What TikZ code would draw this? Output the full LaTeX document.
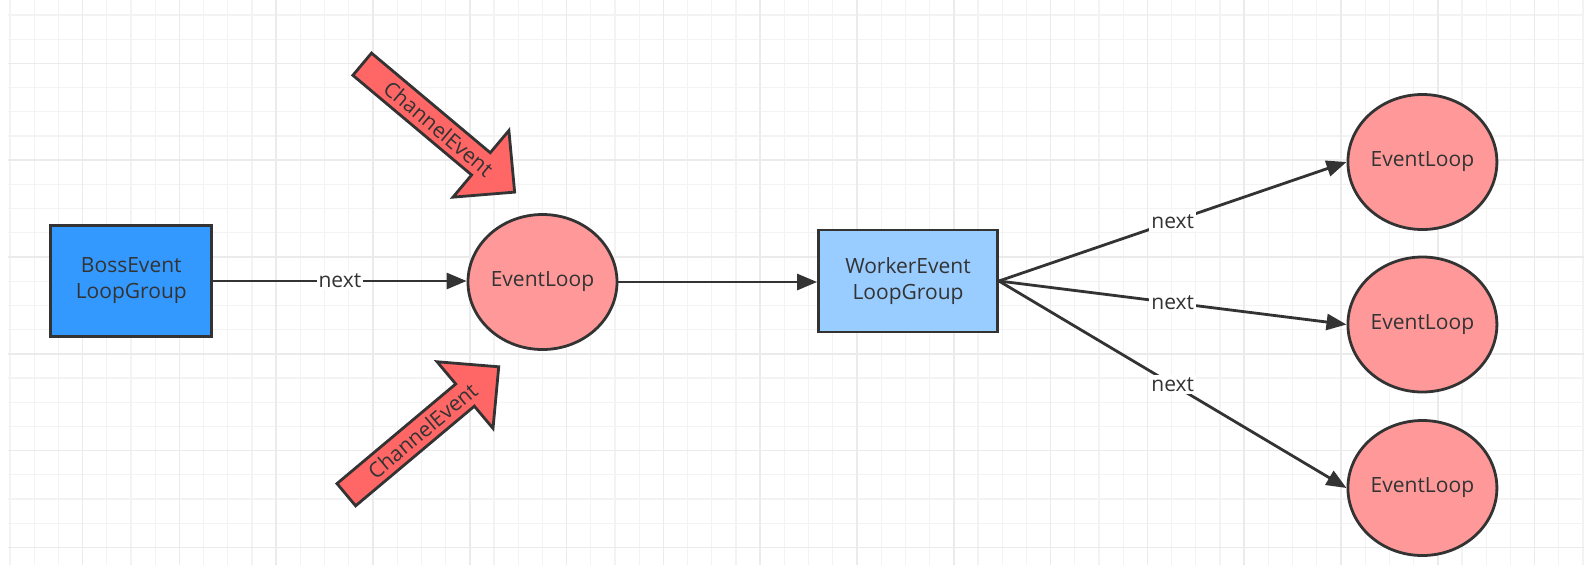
\documentclass[tikz,border=0pt]{standalone}
\usepackage{fontspec}
\setmainfont{Open Sans}
\usetikzlibrary{shapes.geometric,arrows.meta}
\definecolor{gridminor}{HTML}{F3F3F3}
\definecolor{gridmajor}{HTML}{EBEBEB}
\definecolor{strokec}{HTML}{333333}
\definecolor{bossfill}{HTML}{3399FF}
\definecolor{workerfill}{HTML}{99CCFF}
\definecolor{loopfill}{HTML}{FF9999}
\definecolor{eventfill}{HTML}{FF6666}
\begin{document}
\begin{tikzpicture}[x=1pt,y=-1pt,
  txt/.style={font=\fontsize{21}{26}\selectfont, text=strokec},
  boxnode/.style={draw=strokec, line width=2.8pt, rectangle, inner sep=0pt, align=center, txt},
  loopnode/.style={draw=strokec, line width=2.8pt, ellipse, fill=loopfill, minimum width=149pt, minimum height=135pt, inner sep=0pt, txt},
  conn/.style={draw=strokec, line width=2.8pt, -{Triangle[length=20pt,width=16pt]}},
  lbl/.style={fill=white, inner sep=2pt, txt},
  evarrow/.style={draw=strokec, line width=2.8pt, fill=eventfill},
  gminor/.style={draw=gridminor, line width=1.3pt},
  gmajor/.style={draw=gridmajor, line width=1.5pt}
]
\useasboundingbox (0,0) rectangle (1584,574);
\fill[white] (0,0) rectangle (1584,574);
% grid
\foreach \k in {0,...,65} \draw[gminor] ({10+24.2*\k},0) -- ({10+24.2*\k},565);
\foreach \k in {0,...,22} \draw[gminor] (8,{15+24.2*\k}) -- (1584,{15+24.2*\k});
\foreach \k in {3,7,...,63} \draw[gmajor] ({10+24.2*\k},0) -- ({10+24.2*\k},565);
\foreach \k in {2,6,...,22} \draw[gmajor] (8,{15+24.2*\k}) -- (1584,{15+24.2*\k});

% block arrows
\begin{scope}[shift={(362.2,64.2)}, rotate=-40]
  \draw[evarrow] (0,-14.5) -- (155,-14.5) -- (155,-43.5) -- (199,0) -- (155,43.5) -- (155,14.5) -- (0,14.5) -- cycle;
\end{scope}
\node[txt, rotate=-40] (ce1) at (438.6,128.5) {ChannelEvent};
\begin{scope}[shift={(346.3,494.7)}, rotate=40]
  \draw[evarrow] (0,-14.5) -- (155,-14.5) -- (155,-43.5) -- (199,0) -- (155,43.5) -- (155,14.5) -- (0,14.5) -- cycle;
\end{scope}
\node[txt, rotate=40] (ce2) at (422.5,430.7) {ChannelEvent};

% nodes
\node[boxnode, fill=bossfill, minimum width=161pt, minimum height=111pt] (boss) at (131.3,281) {BossEvent\\LoopGroup};
\node[loopnode] (el1) at (542.5,282) {EventLoop};
\node[boxnode, fill=workerfill, minimum width=179pt, minimum height=102pt] (worker) at (908,281) {WorkerEvent\\LoopGroup};
\node[loopnode] (elA) at (1422.4,162) {EventLoop};
\node[loopnode] (elB) at (1422.4,324.5) {EventLoop};
\node[loopnode] (elC) at (1422.4,488) {EventLoop};

% connectors
\draw[conn] (boss.east) -- (boss.east -| el1.west) node[lbl, midway] {next};
\draw[conn] (el1.east) -- (el1.east -| worker.west);
\draw[conn] (worker.east) -- (elA.west) node[lbl, midway] {next};
\draw[conn] (worker.east) -- (elB.west) node[lbl, midway] {next};
\draw[conn] (worker.east) -- (elC.west) node[lbl, midway] {next};
\end{tikzpicture}
\end{document}
